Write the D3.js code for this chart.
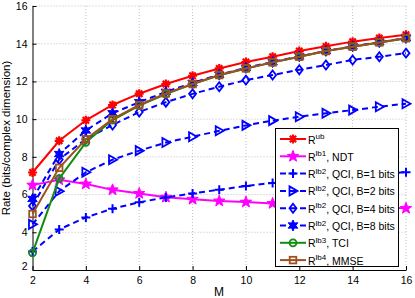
<!DOCTYPE html>
<html>
<head>
<meta charset="utf-8">
<script src="https://cdn.jsdelivr.net/npm/d3@7"></script>
<style>
body { margin: 0; background: #fff; }
svg text { font-family: "Liberation Sans", Arial, sans-serif; fill: #000; }
</style>
</head>
<body>
<div id="chart"></div>
<script>
const M = [2, 3, 4, 5, 6, 7, 8, 9, 10, 11, 12, 13, 14, 15, 16];
const rub  = [7.17, 8.85, 9.94, 10.75, 11.35, 11.86, 12.30, 12.69, 13.03, 13.31, 13.61, 13.86, 14.11, 14.30, 14.48];
const ndt  = [6.50, 6.78, 6.56, 6.25, 6.06, 5.86, 5.75, 5.66, 5.60, 5.53, 5.47, 5.41, 5.36, 5.31, 5.27];
const qci1 = [2.98, 4.15, 4.79, 5.25, 5.59, 5.85, 6.06, 6.26, 6.45, 6.62, 6.75, 6.87, 6.98, 7.09, 7.19];
const qci2 = [4.42, 6.18, 7.18, 7.85, 8.33, 8.76, 9.07, 9.38, 9.67, 9.92, 10.13, 10.31, 10.48, 10.66, 10.82];
const qci4 = [5.40, 7.86, 8.95, 9.69, 10.38, 10.90, 11.34, 11.72, 12.07, 12.34, 12.62, 12.87, 13.14, 13.31, 13.50];
const qci8 = [5.77, 8.15, 9.40, 10.31, 10.90, 11.45, 11.92, 12.36, 12.72, 13.03, 13.33, 13.62, 13.86, 14.08, 14.30];
const tci  = [2.91, 6.85, 8.77, 9.95, 10.72, 11.33, 11.86, 12.33, 12.69, 13.01, 13.31, 13.61, 13.84, 14.07, 14.29];
const mmse = [4.97, 7.42, 8.93, 10.00, 10.75, 11.37, 11.86, 12.34, 12.69, 13.01, 13.31, 13.61, 13.84, 14.07, 14.29];
const xTicks = [2, 4, 6, 8, 10, 12, 14, 16];
const yTicks = [2, 4, 6, 8, 10, 12, 14, 16];

const series = [
  {values: rub,  color: "#ff0000", dash: null,  marker: "asterisk", sup: "ub",  name: ""},
  {values: ndt,  color: "#ff00ff", dash: null,  marker: "pentagram", sup: "lb1", name: ", NDT"},
  {values: qci1, color: "#0000ff", dash: "6,4", marker: "plus",     sup: "lb2", name: ", QCI, B=1 bits"},
  {values: qci2, color: "#0000ff", dash: "6,4", marker: "triright", sup: "lb2", name: ", QCI, B=2 bits"},
  {values: qci4, color: "#0000ff", dash: "6,4", marker: "diamond",  sup: "lb2", name: ", QCI, B=4 bits"},
  {values: qci8, color: "#0000ff", dash: "6,4", marker: "hexagram", sup: "lb2", name: ", QCI, B=8 bits"},
  {values: tci,  color: "#148c14", dash: null,  marker: "circle",   sup: "lb3", name: ", TCI"},
  {values: mmse, color: "#a0501e", dash: null,  marker: "square",   sup: "lb4", name: ", MMSE"}
];

const W = 415, H = 298;
const margin = {top: 6, right: 9, bottom: 28, left: 32};
const width = W - margin.left - margin.right,
  height = H - margin.top - margin.bottom;

const svg = d3.select("#chart").append("svg")
  .attr("width", W).attr("height", H)
  .append("g")
  .attr("transform", "translate(" + margin.left + "," + margin.top + ")");

const x = d3.scaleLinear().domain([2, 16]).range([0.5, width]);
const y = d3.scaleLinear().domain([2, 16]).range([height, 0]);

// grid
svg.append("g").selectAll("line").data(xTicks.slice(1))
  .enter().append("line")
  .attr("x1", d => x(d)).attr("x2", d => x(d))
  .attr("y1", 0).attr("y2", height)
  .attr("stroke", "#b0b0b0").attr("stroke-width", 0.8).attr("stroke-dasharray", "1,2");
svg.append("g").selectAll("line").data(yTicks.slice(1))
  .enter().append("line")
  .attr("x1", x(2)).attr("x2", width)
  .attr("y1", d => y(d)).attr("y2", d => y(d))
  .attr("stroke", "#b0b0b0").attr("stroke-width", 0.8).attr("stroke-dasharray", "1,2");

const xAxis = d3.axisBottom(x).tickValues(xTicks).tickSizeInner(-4).tickSizeOuter(0).tickPadding(6);
const yAxis = d3.axisLeft(y).tickValues(yTicks).tickSizeInner(-4).tickSizeOuter(0).tickPadding(5);

const gx = svg.append("g").attr("transform", "translate(0," + height + ")").call(xAxis);
const gy = svg.append("g").attr("transform", "translate(0.5,0)").call(yAxis);
[gx, gy].forEach(g => {
  g.selectAll("text").style("font-size", "10.5px");
  g.select(".domain").attr("stroke", "#000");
});
gx.selectAll("text").attr("dy", "0.8em");
gy.selectAll(".tick").filter(d => d === 2).select("text").attr("dy", "-0.05em");

svg.append("text")
  .attr("x", width / 2).attr("y", height + 26)
  .attr("text-anchor", "middle").style("font-size", "12px").text("M");

svg.append("text")
  .attr("transform", "rotate(-90)")
  .attr("x", -height / 2).attr("y", -22)
  .attr("text-anchor", "middle").style("font-size", "11.5px")
  .text("Rate (bits/complex dimension)");

function starPath(n, ro, ri) {
  let p = [];
  for (let i = 0; i < 2 * n; i++) {
    const a = -Math.PI / 2 + i * Math.PI / n;
    const r = i % 2 === 0 ? ro : ri;
    p.push([r * Math.cos(a), r * Math.sin(a)]);
  }
  return "M" + p.map(q => q.join(",")).join("L") + "Z";
}

function drawMarker(g, type, color) {
  const s = 4.5;
  if (type === "asterisk") {
    let d = "";
    for (let i = 0; i < 4; i++) {
      const a = i * Math.PI / 4;
      d += "M" + (-s * Math.cos(a)) + "," + (-s * Math.sin(a)) + "L" + (s * Math.cos(a)) + "," + (s * Math.sin(a));
    }
    g.append("circle").attr("r", 2.5).attr("fill", color);
    g.append("path").attr("d", d).attr("stroke", color).attr("stroke-width", 2.2).attr("fill", "none");
  } else if (type === "pentagram") {
    g.append("path").attr("d", starPath(5, 6, 2.5)).attr("fill", color).attr("stroke", color).attr("stroke-width", 1);
  } else if (type === "hexagram") {
    g.append("path").attr("d", starPath(6, 5.5, 2.8)).attr("fill", color).attr("stroke", color).attr("stroke-width", 1);
  } else if (type === "plus") {
    g.append("path").attr("d", "M" + (-s) + ",0L" + s + ",0M0," + (-s) + "L0," + s)
      .attr("stroke", color).attr("stroke-width", 2).attr("fill", "none");
  } else if (type === "triright") {
    g.append("path").attr("d", "M-3.5,-4.5L4.5,0L-3.5,4.5Z")
      .attr("stroke", color).attr("stroke-width", 1.8).attr("fill", "none");
  } else if (type === "diamond") {
    g.append("path").attr("d", "M0,-4.5L3.5,0L0,4.5L-3.5,0Z")
      .attr("stroke", color).attr("stroke-width", 1.8).attr("fill", "none");
  } else if (type === "circle") {
    g.append("circle").attr("r", 3.5)
      .attr("stroke", color).attr("stroke-width", 1.8).attr("fill", "none");
  } else if (type === "square") {
    g.append("rect").attr("x", -3.3).attr("y", -3.3).attr("width", 6.6).attr("height", 6.6)
      .attr("stroke", color).attr("stroke-width", 1.8).attr("fill", "none");
  }
}

const line = d3.line().x((d, i) => x(M[i])).y(d => y(d));

series.forEach(s => {
  const g = svg.append("g");
  g.append("path").datum(s.values)
    .attr("d", line)
    .attr("fill", "none").attr("stroke", s.color).attr("stroke-width", 2)
    .attr("stroke-dasharray", s.dash);
  g.selectAll(".mk").data(s.values).enter().append("g")
    .attr("class", "mk")
    .attr("transform", (d, i) => "translate(" + x(M[i]) + "," + y(d) + ")")
    .each(function () { drawMarker(d3.select(this), s.marker, s.color); });
});

// legend
const lx = 275 - margin.left, ly = 128 - margin.top, lw = 123, lh = 138;
const leg = svg.append("g").attr("transform", "translate(" + lx + "," + ly + ")");
leg.append("rect").attr("x", 0.5).attr("y", 0.5).attr("width", lw).attr("height", lh)
  .attr("fill", "#fff").attr("stroke", "#000").attr("stroke-width", 1);
series.forEach((s, i) => {
  const row = leg.append("g").attr("transform", "translate(0," + (11 + i * 17.3) + ")");
  row.append("line").attr("x1", 5).attr("x2", 31).attr("y1", 0).attr("y2", 0)
    .attr("stroke", s.color).attr("stroke-width", 2).attr("stroke-dasharray", s.dash);
  const mk = row.append("g").attr("transform", "translate(18,0)");
  drawMarker(mk, s.marker, s.color);
  const t = row.append("text").attr("x", 33).attr("y", 4.5).style("font-size", "10.5px");
  t.append("tspan").text("R");
  t.append("tspan").attr("dy", -4.5).style("font-size", "8px").text(s.sup);
  t.append("tspan").attr("dy", 4.5).text(s.name);
});
</script>
</body>
</html>
